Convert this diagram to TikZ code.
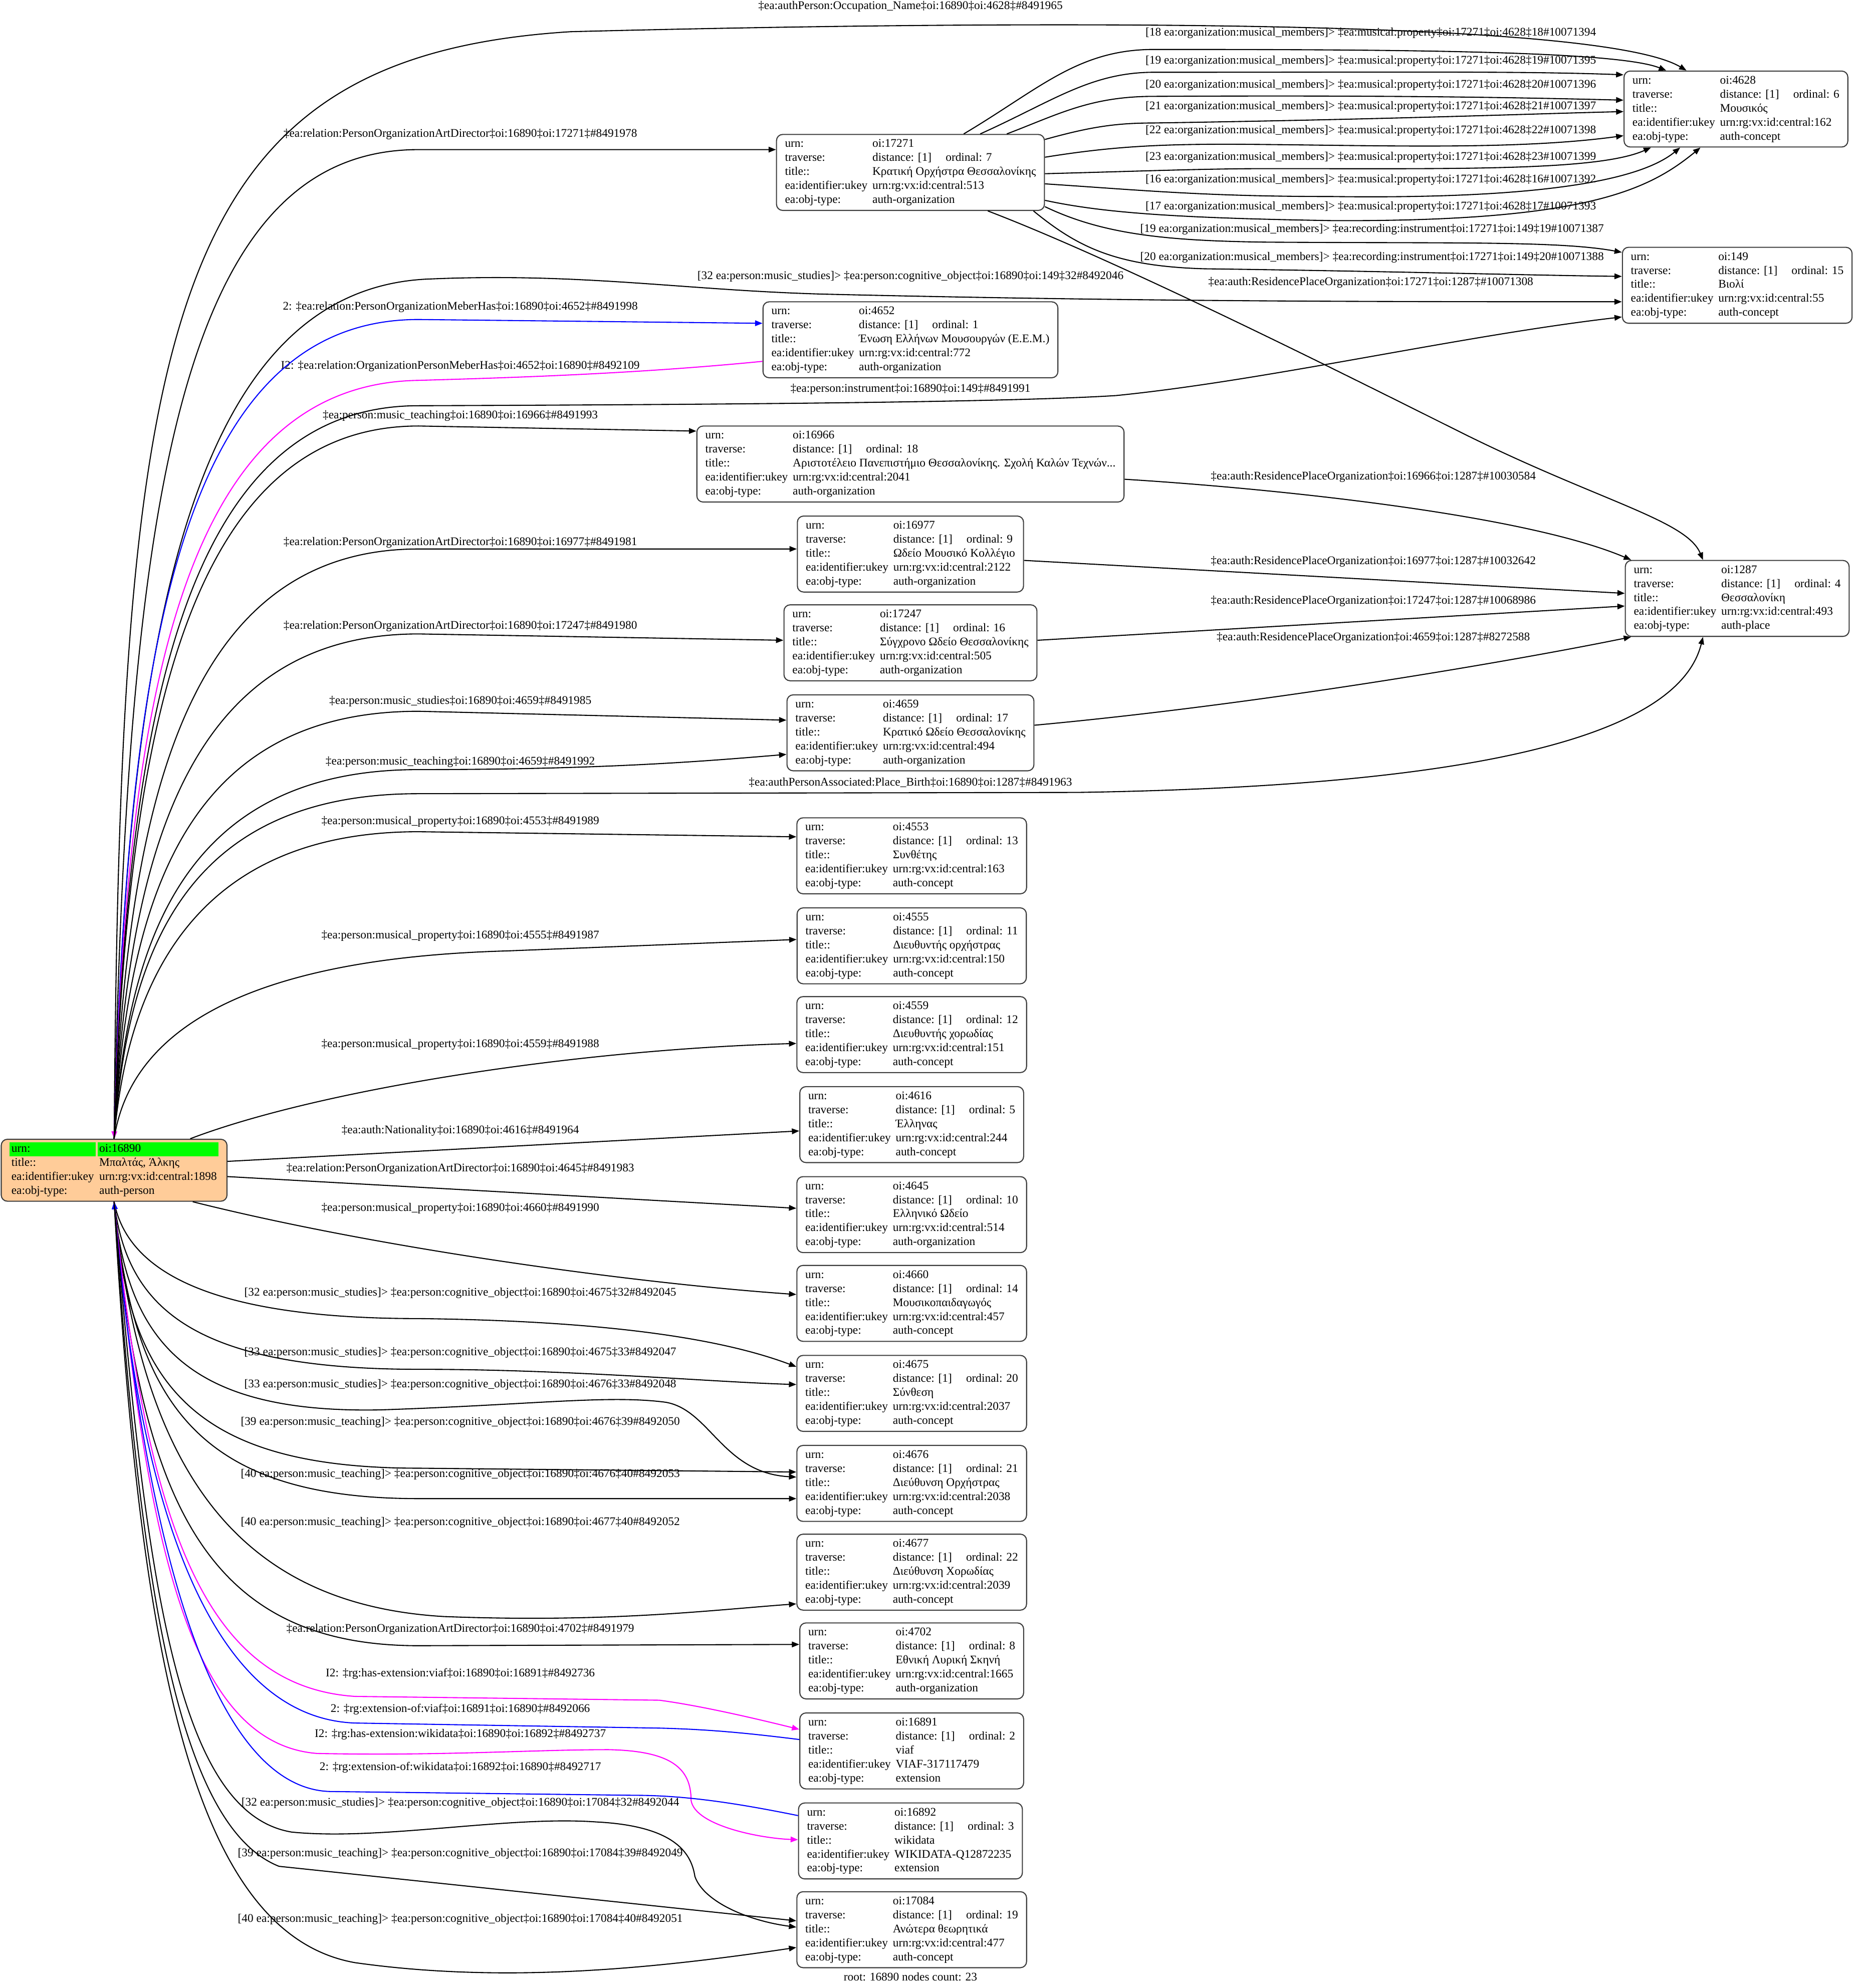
\documentclass[tikz,border=0pt]{standalone}
\usepackage{fontspec}
\setmainfont{Liberation Serif}
\usetikzlibrary{arrows.meta, calc}
\definecolor{peach_fill}{RGB}{255, 204, 153}
\definecolor{hdr_green}{RGB}{0, 255, 0}
\definecolor{frame_gray}{RGB}{60, 60, 60}
\definecolor{link_blue}{RGB}{0, 0, 255}
\definecolor{link_magenta}{RGB}{255, 0, 255}
\newlength{\hdrlabw}
\newlength{\hdrvalw}
\newcommand{\recbody}[5]{%
\begin{tabular}{@{}l@{\hspace{2.8pt}}l@{}}
urn: & oi:#1\\
traverse: & distance: [1]\hspace{8pt}ordinal: #2\\
title:: & #3\\
ea:identifier:ukey & #4\\
ea:obj-type: & #5
\end{tabular}}
\newcommand{\hdrcell}[2]{{\setlength{\fboxsep}{0pt}\colorbox{hdr_green}{\makebox[\dimexpr#1+2pt\relax][l]{\hspace{1pt}\strut#2}}}}

\begin{document}
\begin{tikzpicture}[
    x=0.025311cm, y=-0.025311cm,
    record/.style={
        rectangle,
        draw=frame_gray,
        fill=white,
        line width=0.6pt,
        rounded corners=3.5pt,
        inner xsep=4.8pt,
        inner ysep=1.7pt,
        font=\fontsize{6.65}{7.95}\selectfont
    },
    lbl/.style={
        inner sep=0pt,
        font=\fontsize{6.65}{7.95}\selectfont
    },
    link/.style={
        -{Triangle[length=4.2pt,width=3.2pt]},
        line width=0.6pt,
        draw=#1
    },
    link/.default=black
]
\useasboundingbox (0,0) rectangle (1465,1568);

% root person
\node[record, fill=peach_fill] (src) at (90,923) {%
\settowidth{\hdrlabw}{ea:identifier:ukey}%
\settowidth{\hdrvalw}{urn:rg:vx:id:central:1898}%
\begin{tabular}{@{}l@{\hspace{1pt}}l@{}}
\hdrcell{\hdrlabw}{urn:} & \hdrcell{\hdrvalw}{oi:16890}\\
\hspace{1pt}title:: & \hspace{1pt}Μπαλτάς, Άλκης\\
\hspace{1pt}ea:identifier:ukey & \hspace{1pt}urn:rg:vx:id:central:1898\\
\hspace{1pt}ea:obj-type: & \hspace{1pt}auth-person
\end{tabular}};

% middle column
\node[record] (n17271) at (718,136) {\recbody{17271}{7}{Κρατική Ορχήστρα Θεσσαλονίκης}{urn:rg:vx:id:central:513}{auth-organization}};
\node[record] (n4652) at (718,268) {\recbody{4652}{1}{Ένωση Ελλήνων Μουσουργών (Ε.Ε.Μ.)}{urn:rg:vx:id:central:772}{auth-organization}};
\node[record] (n16966) at (718,366) {\recbody{16966}{18}{Αριστοτέλειο Πανεπιστήμιο Θεσσαλονίκης. Σχολή Καλών Τεχνών...}{urn:rg:vx:id:central:2041}{auth-organization}};
\node[record] (n16977) at (718,437) {\recbody{16977}{9}{Ωδείο Μουσικό Κολλέγιο}{urn:rg:vx:id:central:2122}{auth-organization}};
\node[record] (n17247) at (718,507) {\recbody{17247}{16}{Σύγχρονο Ωδείο Θεσσαλονίκης}{urn:rg:vx:id:central:505}{auth-organization}};
\node[record] (n4659) at (718,578) {\recbody{4659}{17}{Κρατικό Ωδείο Θεσσαλονίκης}{urn:rg:vx:id:central:494}{auth-organization}};
\node[record] (n4553) at (719,675) {\recbody{4553}{13}{Συνθέτης}{urn:rg:vx:id:central:163}{auth-concept}};
\node[record] (n4555) at (719,746) {\recbody{4555}{11}{Διευθυντής ορχήστρας}{urn:rg:vx:id:central:150}{auth-concept}};
\node[record] (n4559) at (719,816) {\recbody{4559}{12}{Διευθυντής χορωδίας}{urn:rg:vx:id:central:151}{auth-concept}};
\node[record] (n4616) at (719,887) {\recbody{4616}{5}{Έλληνας}{urn:rg:vx:id:central:244}{auth-concept}};
\node[record] (n4645) at (719,958) {\recbody{4645}{10}{Ελληνικό Ωδείο}{urn:rg:vx:id:central:514}{auth-organization}};
\node[record] (n4660) at (719,1028) {\recbody{4660}{14}{Μουσικοπαιδαγωγός}{urn:rg:vx:id:central:457}{auth-concept}};
\node[record] (n4675) at (719,1099) {\recbody{4675}{20}{Σύνθεση}{urn:rg:vx:id:central:2037}{auth-concept}};
\node[record] (n4676) at (719,1170) {\recbody{4676}{21}{Διεύθυνση Ορχήστρας}{urn:rg:vx:id:central:2038}{auth-concept}};
\node[record] (n4677) at (719,1240) {\recbody{4677}{22}{Διεύθυνση Χορωδίας}{urn:rg:vx:id:central:2039}{auth-concept}};
\node[record] (n4702) at (719,1310) {\recbody{4702}{8}{Εθνική Λυρική Σκηνή}{urn:rg:vx:id:central:1665}{auth-organization}};
\node[record] (n16891) at (719,1381) {\recbody{16891}{2}{viaf}{VIAF-317117479}{extension}};
\node[record] (n16892) at (718,1452) {\recbody{16892}{3}{wikidata}{WIKIDATA-Q12872235}{extension}};
\node[record] (n17084) at (719,1522) {\recbody{17084}{19}{Ανώτερα θεωρητικά}{urn:rg:vx:id:central:477}{auth-concept}};

% right column
\node[record] (n4628) at (1369,86) {\recbody{4628}{6}{Μουσικός}{urn:rg:vx:id:central:162}{auth-concept}};
\node[record] (n149) at (1370,225) {\recbody{149}{15}{Βιολί}{urn:rg:vx:id:central:55}{auth-concept}};
\node[record] (n1287) at (1370,472) {\recbody{1287}{4}{Θεσσαλονίκη}{urn:rg:vx:id:central:493}{auth-place}};

\node[lbl] (footer) at (718,1559) {root: 16890 nodes count: 23};

% edge labels, person side
\node[lbl] (l1) at (718,5) {‡ea:authPerson:Occupation\_Name‡oi:16890‡oi:4628‡\#8491965};
\node[lbl] (l2) at (363,106) {‡ea:relation:PersonOrganizationArtDirector‡oi:16890‡oi:17271‡\#8491978};
\node[lbl] (l3) at (718,218) {[32 ea:person:music\_studies]> ‡ea:person:cognitive\_object‡oi:16890‡oi:149‡32\#8492046};
\node[lbl] (l4) at (363,242) {2: ‡ea:relation:PersonOrganizationMeberHas‡oi:16890‡oi:4652‡\#8491998};
\node[lbl] (l5) at (363,289) {I2: ‡ea:relation:OrganizationPersonMeberHas‡oi:4652‡oi:16890‡\#8492109};
\node[lbl] (l6) at (718,307) {‡ea:person:instrument‡oi:16890‡oi:149‡\#8491991};
\node[lbl] (l7) at (363,328) {‡ea:person:music\_teaching‡oi:16890‡oi:16966‡\#8491993};
\node[lbl] (l8) at (363,428) {‡ea:relation:PersonOrganizationArtDirector‡oi:16890‡oi:16977‡\#8491981};
\node[lbl] (l9) at (363,494) {‡ea:relation:PersonOrganizationArtDirector‡oi:16890‡oi:17247‡\#8491980};
\node[lbl] (l10) at (363,553) {‡ea:person:music\_studies‡oi:16890‡oi:4659‡\#8491985};
\node[lbl] (l11) at (363,601) {‡ea:person:music\_teaching‡oi:16890‡oi:4659‡\#8491992};
\node[lbl] (l12) at (718,617) {‡ea:authPersonAssociated:Place\_Birth‡oi:16890‡oi:1287‡\#8491963};
\node[lbl] (l13) at (363,648) {‡ea:person:musical\_property‡oi:16890‡oi:4553‡\#8491989};
\node[lbl] (l14) at (363,738) {‡ea:person:musical\_property‡oi:16890‡oi:4555‡\#8491987};
\node[lbl] (l15) at (363,824) {‡ea:person:musical\_property‡oi:16890‡oi:4559‡\#8491988};
\node[lbl] (l16) at (363,892) {‡ea:auth:Nationality‡oi:16890‡oi:4616‡\#8491964};
\node[lbl] (l17) at (363,922) {‡ea:relation:PersonOrganizationArtDirector‡oi:16890‡oi:4645‡\#8491983};
\node[lbl] (l18) at (363,953) {‡ea:person:musical\_property‡oi:16890‡oi:4660‡\#8491990};
\node[lbl] (l19) at (363,1020) {[32 ea:person:music\_studies]> ‡ea:person:cognitive\_object‡oi:16890‡oi:4675‡32\#8492045};
\node[lbl] (l20) at (363,1067) {[33 ea:person:music\_studies]> ‡ea:person:cognitive\_object‡oi:16890‡oi:4675‡33\#8492047};
\node[lbl] (l21) at (363,1092) {[33 ea:person:music\_studies]> ‡ea:person:cognitive\_object‡oi:16890‡oi:4676‡33\#8492048};
\node[lbl] (l22) at (363,1122) {[39 ea:person:music\_teaching]> ‡ea:person:cognitive\_object‡oi:16890‡oi:4676‡39\#8492050};
\node[lbl] (l23) at (363,1163) {[40 ea:person:music\_teaching]> ‡ea:person:cognitive\_object‡oi:16890‡oi:4676‡40\#8492053};
\node[lbl] (l24) at (363,1201) {[40 ea:person:music\_teaching]> ‡ea:person:cognitive\_object‡oi:16890‡oi:4677‡40\#8492052};
\node[lbl] (l25) at (363,1285) {‡ea:relation:PersonOrganizationArtDirector‡oi:16890‡oi:4702‡\#8491979};
\node[lbl] (l26) at (363,1320) {I2: ‡rg:has-extension:viaf‡oi:16890‡oi:16891‡\#8492736};
\node[lbl] (l27) at (363,1348) {2: ‡rg:extension-of:viaf‡oi:16891‡oi:16890‡\#8492066};
\node[lbl] (l28) at (363,1368) {I2: ‡rg:has-extension:wikidata‡oi:16890‡oi:16892‡\#8492737};
\node[lbl] (l29) at (363,1394) {2: ‡rg:extension-of:wikidata‡oi:16892‡oi:16890‡\#8492717};
\node[lbl] (l30) at (363,1422) {[32 ea:person:music\_studies]> ‡ea:person:cognitive\_object‡oi:16890‡oi:17084‡32\#8492044};
\node[lbl] (l31) at (363,1462) {[39 ea:person:music\_teaching]> ‡ea:person:cognitive\_object‡oi:16890‡oi:17084‡39\#8492049};
\node[lbl] (l32) at (363,1514) {[40 ea:person:music\_teaching]> ‡ea:person:cognitive\_object‡oi:16890‡oi:17084‡40\#8492051};

% edge labels, right side
\node[lbl] (m18) at (1081,26) {[18 ea:organization:musical\_members]> ‡ea:musical:property‡oi:17271‡oi:4628‡18\#10071394};
\node[lbl] (m19) at (1081,48) {[19 ea:organization:musical\_members]> ‡ea:musical:property‡oi:17271‡oi:4628‡19\#10071395};
\node[lbl] (m20) at (1081,67) {[20 ea:organization:musical\_members]> ‡ea:musical:property‡oi:17271‡oi:4628‡20\#10071396};
\node[lbl] (m21) at (1081,84) {[21 ea:organization:musical\_members]> ‡ea:musical:property‡oi:17271‡oi:4628‡21\#10071397};
\node[lbl] (m22) at (1081,103) {[22 ea:organization:musical\_members]> ‡ea:musical:property‡oi:17271‡oi:4628‡22\#10071398};
\node[lbl] (m23) at (1081,124) {[23 ea:organization:musical\_members]> ‡ea:musical:property‡oi:17271‡oi:4628‡23\#10071399};
\node[lbl] (m16) at (1081,142) {[16 ea:organization:musical\_members]> ‡ea:musical:property‡oi:17271‡oi:4628‡16\#10071392};
\node[lbl] (m17) at (1081,163) {[17 ea:organization:musical\_members]> ‡ea:musical:property‡oi:17271‡oi:4628‡17\#10071393};
\node[lbl] (r19) at (1082,181) {[19 ea:organization:musical\_members]> ‡ea:recording:instrument‡oi:17271‡oi:149‡19\#10071387};
\node[lbl] (r20) at (1082,203) {[20 ea:organization:musical\_members]> ‡ea:recording:instrument‡oi:17271‡oi:149‡20\#10071388};
\node[lbl] (p17271) at (1081,223) {‡ea:auth:ResidencePlaceOrganization‡oi:17271‡oi:1287‡\#10071308};
\node[lbl] (p16966) at (1083,376) {‡ea:auth:ResidencePlaceOrganization‡oi:16966‡oi:1287‡\#10030584};
\node[lbl] (p16977) at (1083,443) {‡ea:auth:ResidencePlaceOrganization‡oi:16977‡oi:1287‡\#10032642};
\node[lbl] (p17247) at (1083,474) {‡ea:auth:ResidencePlaceOrganization‡oi:17247‡oi:1287‡\#10068986};
\node[lbl] (p4659) at (1083,503) {‡ea:auth:ResidencePlaceOrganization‡oi:4659‡oi:1287‡\#8272588};

% person to nodes above it
\draw[link] (src.north) .. controls (95,250) and (130,45) .. (450,25) .. controls (800,16) and (1260,14) .. ($(n4628.north)+(-39,0)$);
\draw[link] (src.north) .. controls (100,400) and (140,118) .. (330,118) -- ($(n17271.west)+(0,-18)$);
\draw[link] (src.north) .. controls (100,500) and (150,226) .. (340,220) .. controls (460,215) and (540,229) .. (650,232) .. controls (900,238) and (1100,238) .. ($(n149.west)+(0,13)$);
\draw[link=link_blue] (src.north) .. controls (100,520) and (140,252) .. (330,252) -- ($(n4652.west)+(0,-13)$);
\draw[link=link_magenta] ($(n4652.west)+(0,17)$) .. controls (500,295) and (400,298) .. (330,300) .. controls (140,303) and (100,560) .. (src.north);
\draw[link] (src.north) .. controls (100,580) and (140,320) .. (330,320) .. controls (600,319) and (800,317) .. (880,312) .. controls (1000,300) and (1150,265) .. ($(n149.west)+(0,25)$);
\draw[link] (src.north) .. controls (100,600) and (140,336) .. (330,336) -- ($(n16966.west)+(0,-26)$);
\draw[link] (src.north) .. controls (100,650) and (140,433) .. (330,433) -- ($(n16977.west)+(0,-4)$);
\draw[link] (src.north) .. controls (100,690) and (140,500) .. (330,500) -- ($(n17247.west)+(0,-2)$);
\draw[link] (src.north) .. controls (100,720) and (140,561) .. (330,561) -- ($(n4659.west)+(0,-10)$);
\draw[link] (src.north) .. controls (100,750) and (140,607) .. (330,607) .. controls (480,607) and (560,600) .. ($(n4659.west)+(0,17)$);
\draw[link] (src.north) .. controls (100,760) and (140,626) .. (330,626) -- (850,625) .. controls (1100,621) and (1320,595) .. ($(n1287.south)+(-27,0)$);
\draw[link] (src.north) .. controls (100,780) and (150,656) .. (330,656) -- ($(n4553.west)+(0,-15)$);
\draw[link] (src.north) .. controls (105,800) and (220,755) .. (400,750) -- ($(n4555.west)+(0,-5)$);
\draw[link] ($(src.north)+(60,0)$) .. controls (250,860) and (450,828) .. ($(n4559.west)+(0,7)$);
\draw[link] ($(src.east)+(0,-7)$) -- ($(n4616.west)+(0,5)$);
\draw[link] ($(src.east)+(0,5)$) -- ($(n4645.west)+(0,-5)$);
\draw[link] ($(src.south)+(62,0)$) .. controls (300,985) and (500,1012) .. ($(n4660.west)+(0,-7)$);

% person to nodes below it
\draw[link] (src.south) .. controls (100,1000) and (160,1040) .. (330,1040) .. controls (500,1042) and (580,1060) .. ($(n4675.west)+(0,-21)$);
\draw[link] (src.south) .. controls (100,1030) and (150,1080) .. (330,1080) .. controls (450,1080) and (560,1090) .. ($(n4675.west)+(0,-7)$);
\draw[link] (src.south) .. controls (100,1060) and (150,1115) .. (300,1112) .. controls (420,1108) and (480,1100) .. (525,1106) .. controls (560,1112) and (570,1162) .. ($(n4676.west)+(0,-5)$);
\draw[link] (src.south) .. controls (100,1090) and (150,1158) .. (330,1158) -- ($(n4676.west)+(0,-9)$);
\draw[link] (src.south) .. controls (105,1100) and (150,1182) .. (330,1182) -- ($(n4676.west)+(0,12)$);
\draw[link] (src.south) .. controls (110,1150) and (180,1265) .. (350,1275) .. controls (480,1280) and (560,1270) .. ($(n4677.west)+(0,25)$);
\draw[link] (src.south) .. controls (110,1180) and (160,1298) .. (330,1298) -- ($(n4702.west)+(0,-13)$);
\draw[link=link_magenta] (src.south) .. controls (115,1200) and (160,1330) .. (280,1338) -- (520,1341) .. controls (550,1345) and (590,1354) .. ($(n16891.west)+(0,-17)$);
\draw[link=link_blue] ($(n16891.west)+(0,-9)$) .. controls (590,1367) and (560,1364) .. (520,1363) -- (280,1359) .. controls (170,1355) and (110,1200) .. (src.south);
\draw[link=link_magenta] (src.south) .. controls (115,1220) and (150,1375) .. (250,1383) .. controls (350,1385) and (420,1380) .. (480,1380) .. controls (530,1381) and (545,1395) .. (545,1420) .. controls (548,1440) and (600,1450) .. ($(n16892.west)+(0,-1)$);
\draw[link=link_blue] ($(n16892.west)+(0,-20)$) .. controls (580,1422) and (540,1416) .. (500,1416) -- (260,1413) .. controls (170,1410) and (115,1230) .. (src.south);
\draw[link] (src.south) .. controls (115,1250) and (140,1430) .. (230,1445) .. controls (300,1452) and (400,1432) .. (470,1437) .. controls (530,1440) and (545,1460) .. (548,1480) .. controls (555,1500) and (590,1515) .. ($(n17084.west)+(0,-2)$);
\draw[link] (src.south) .. controls (110,1250) and (140,1440) .. (220,1472) -- ($(n17084.west)+(0,-7)$);
\draw[link] (src.south) .. controls (110,1300) and (150,1525) .. (280,1548) .. controls (400,1565) and (520,1552) .. ($(n17084.west)+(0,14)$);

% orchestra members
\draw[link] ($(n17271.north)+(42,0)$) .. controls (820,70) and (850,39) .. (910,39) .. controls (1100,39) and (1275,40) .. ($(n4628.north)+(-55,0)$);
\draw[link] ($(n17271.north)+(55,0)$) .. controls (830,80) and (860,57) .. (910,57) .. controls (1100,57) and (1200,56) .. ($(n4628.west)+(0,-27)$);
\draw[link] ($(n17271.north)+(76,0)$) .. controls (835,90) and (860,76) .. (910,76) .. controls (1100,75) and (1200,77) .. ($(n4628.west)+(0,-7)$);
\draw[link] ($(n17271.east)+(0,-26)$) .. controls (860,100) and (880,97) .. (910,97) .. controls (1100,94) and (1200,90) .. ($(n4628.west)+(0,2)$);
\draw[link] ($(n17271.east)+(0,-12)$) .. controls (880,115) and (920,113) .. (1000,114) .. controls (1100,115) and (1200,118) .. ($(n4628.west)+(0,21)$);
\draw[link] ($(n17271.east)+(0,1)$) .. controls (900,135) and (950,133) .. (1000,133) .. controls (1150,133) and (1260,135) .. ($(n4628.south)+(-67,0)$);
\draw[link] ($(n17271.east)+(0,9)$) .. controls (900,150) and (950,155) .. (1050,155) .. controls (1200,157) and (1290,145) .. ($(n4628.south)+(-44,0)$);
\draw[link] ($(n17271.east)+(0,22)$) .. controls (870,168) and (930,172) .. (1050,174) .. controls (1250,175) and (1300,150) .. ($(n4628.south)+(-28,0)$);
\draw[link] ($(n17271.east)+(0,27)$) .. controls (870,185) and (920,190) .. (1000,191) .. controls (1150,192) and (1230,190) .. ($(n149.west)+(0,-26)$);
\draw[link] ($(n17271.south)+(97,0)$) .. controls (850,195) and (880,210) .. (950,212) .. controls (1100,214) and (1200,217) .. ($(n149.west)+(0,-7)$);
\draw[link] ($(n17271.south)+(61,0)$) .. controls (880,205) and (1050,290) .. (1150,340) .. controls (1260,395) and (1330,410) .. ($(n1287.north)+(-27,0)$);

% residence places
\draw[link] ($(n16966.east)+(0,12)$) .. controls (1000,385) and (1200,405) .. ($(n1287.north west)+(5,0)$);
\draw[link] ($(n16977.east)+(0,5)$) -- ($(n1287.west)+(0,-4)$);
\draw[link] ($(n17247.east)+(0,-2)$) -- ($(n1287.west)+(0,6)$);
\draw[link] ($(n4659.east)+(0,-6)$) .. controls (1000,555) and (1200,520) .. ($(n1287.south west)+(5,0)$);

\end{tikzpicture}
\end{document}
